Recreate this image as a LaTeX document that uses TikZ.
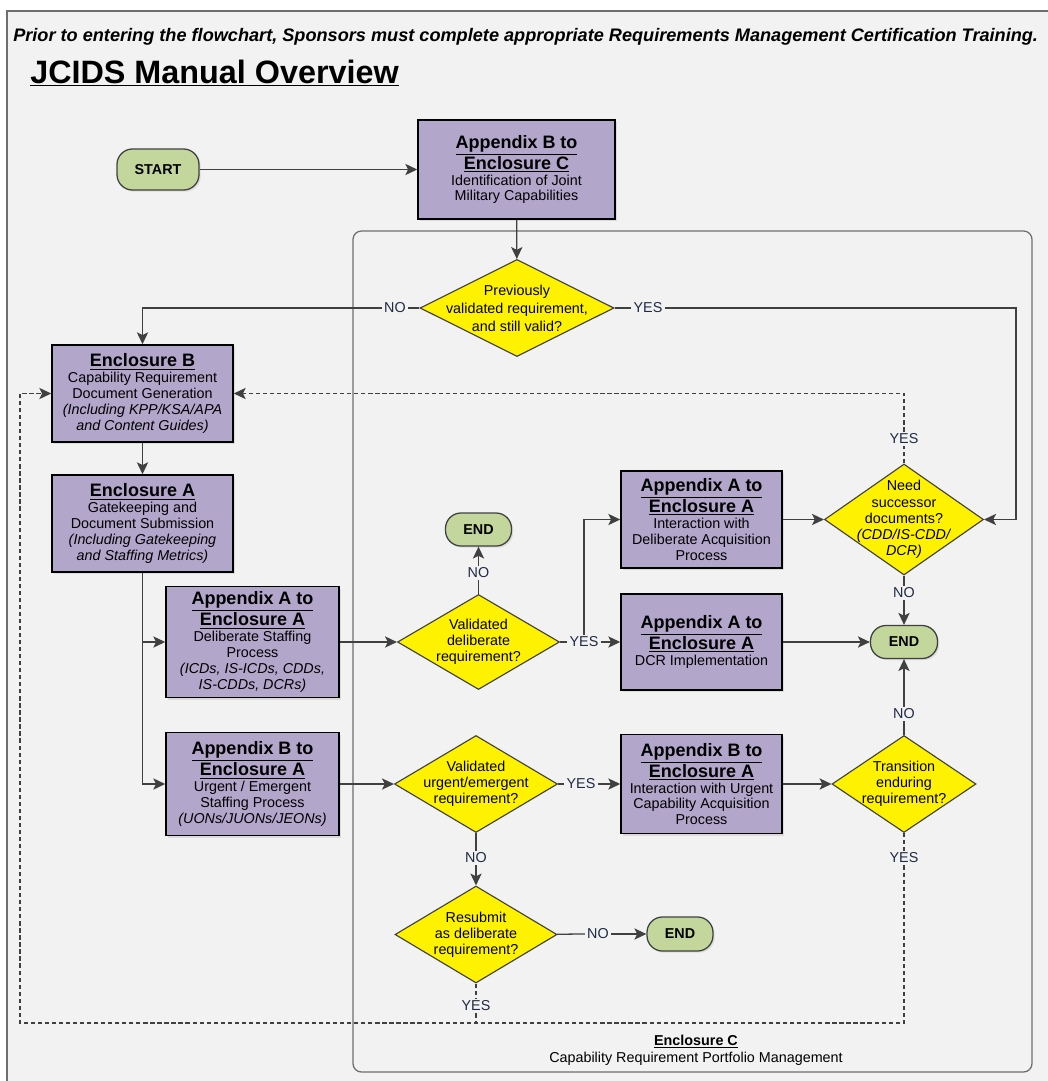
\documentclass[tikz,border=0pt]{standalone}
\usepackage{fontspec}
\setmainfont{Liberation Sans}
\usepackage{xcolor}
\definecolor{bggray}{HTML}{F2F2F2}
\definecolor{framegray}{HTML}{6E6E6E}
\definecolor{boxpurple}{HTML}{B3A6CB}
\definecolor{termgreen}{HTML}{C3D69B}
\definecolor{linegray}{HTML}{404040}
\definecolor{labelblue}{HTML}{1F2A44}
\usepackage{tikz}
\usetikzlibrary{arrows.meta, positioning, shapes.geometric, shadows}

\begin{document}
\begin{tikzpicture}[x=0.025cm, y=-0.025cm,
	conn/.style={draw=linegray, line width=0.9pt},
	arr/.style={conn, -{Stealth[length=8.5pt, width=8pt, inset=2pt]}},
	dashes/.style={dash pattern=on 3pt off 2pt},
	sz/.style 2 args={minimum width=#1*\xu, minimum height=#2*\xu},
	pbox/.style={rectangle, draw=black, line width=1.1pt, fill=boxpurple, align=center, inner sep=0pt,
		font=\fontsize{10.2}{11.3}\selectfont,
		drop shadow={shadow xshift=1.5pt, shadow yshift=-1.5pt, opacity=0.2}},
	term/.style={rectangle, rounded corners=11pt, draw=linegray, line width=0.9pt, fill=termgreen, inner sep=0pt,
		font=\fontsize{10.2}{12}\selectfont\bfseries,
		drop shadow={shadow xshift=1.2pt, shadow yshift=-1.2pt, opacity=0.2}},
	dec/.style={diamond, draw=linegray, line width=0.8pt, fill=yellow, inner sep=0pt},
	dtxt/.style={align=center, inner sep=0pt, font=\fontsize{10.2}{11.5}\selectfont},
	yn/.style={text=labelblue, inner sep=1.5pt, font=\fontsize{10.2}{12}\selectfont},
]

\def \xu{0.025cm} % one pixel of the reference

\newcommand{\hd}[1]{{\fontsize{12.8}{14}\selectfont\bfseries\underline{#1}}}

\useasboundingbox (0,0) rectangle (1048,1081);
\fill[white] (0,0) rectangle (1048,1081);
\draw[framegray, line width=1.4pt, fill=bggray] (7,11) rectangle (1080,1110); % outer frame

% Enclosure C portfolio management area
\draw[framegray, line width=0.9pt, rounded corners=6pt] (353,231) rectangle (1032,1072);
\node[align=center, inner sep=0pt, font=\fontsize{10.2}{12}\selectfont] (encclbl) at (696,1050)
	{\textbf{\underline{Enclosure C}}\\Capability Requirement Portfolio Management};

\node[anchor=base west, inner sep=0pt, font=\fontsize{12.9}{14}\selectfont\bfseries\itshape] (note) at (13,41)
	{Prior to entering the flowchart, Sponsors must complete appropriate Requirements Management Certification Training.};
\node[anchor=base west, inner sep=0pt, font=\fontsize{23}{26}\selectfont\bfseries] (title) at (30,83)
	{\underline{JCIDS Manual Overview}};

% terminals
\node[term, sz={82}{41}] (start) at (158,169.5) {START};
\node[term, sz={66}{33}] (end1) at (478.5,529.5) {END};
\node[term, sz={67}{33}] (end2) at (904,642) {END};
\node[term, sz={66}{34}] (end3) at (680,934) {END};

% process boxes
\node[pbox, sz={197}{99}] (appbc) at (516.5,169.5)
	{\hd{Appendix B to}\\\hd{Enclosure C}\\Identification of Joint\\Military Capabilities};
\node[pbox, sz={181}{97}] (encb) at (142.5,393.5)
	{\hd{Enclosure B}\\Capability Requirement\\Document Generation\\\textit{(Including KPP/KSA/APA}\\\textit{and Content Guides)}};
\node[pbox, sz={181}{97}] (enca) at (142.5,523.5)
	{\hd{Enclosure A}\\Gatekeeping and\\Document Submission\\\textit{(Including Gatekeeping}\\\textit{and Staffing Metrics)}};
\node[pbox, sz={173}{111}] (delib) at (252.5,642)
	{\hd{Appendix A to}\\\hd{Enclosure A}\\Deliberate Staffing\\Process\\\textit{(ICDs, IS-ICDs, CDDs,}\\\textit{IS-CDDs, DCRs)}};
\node[pbox, sz={173}{103}] (urgent) at (252.5,784)
	{\hd{Appendix B to}\\\hd{Enclosure A}\\Urgent / Emergent\\Staffing Process\\\textit{(UONs/JUONs/JEONs)}};
\node[pbox, sz={161}{97}] (acqdelib) at (701.5,519.5)
	{\hd{Appendix A to}\\\hd{Enclosure A}\\Interaction with\\Deliberate Acquisition\\Process};
\node[pbox, sz={161}{96}] (dcr) at (701.5,642)
	{\hd{Appendix A to}\\\hd{Enclosure A}\\DCR Implementation};
\node[pbox, sz={161}{99}] (acqurg) at (701.5,784)
	{\hd{Appendix B to}\\\hd{Enclosure A}\\Interaction with Urgent\\Capability Acquisition\\Process};

% decisions
\node[dec, sz={194}{97}, label={[dtxt, font=\fontsize{10.2}{12.8}\selectfont]center:{Previously\\validated requirement,\\and still valid?}}] (prev) at (517,308) {};
\node[dec, sz={162}{95}, label={[dtxt]center:{Validated\\deliberate\\requirement?}}] (valdelib) at (478.5,642) {};
\node[dec, sz={159}{111}, label={[dtxt]center:{Need\\successor\\documents?\\\textit{(CDD/IS-CDD/}\\\textit{DCR)}}}] (succ) at (904,519.5) {};
\node[dec, sz={163}{97}, label={[dtxt]center:{Validated\\urgent/emergent\\requirement?}}] (valurg) at (476,784) {};
\node[dec, sz={162}{97}, label={[dtxt]center:{Resubmit\\as deliberate\\requirement?}}] (resub) at (476,934.5) {};
\node[dec, sz={144}{97}, label={[dtxt]center:{Transition\\enduring\\requirement?}}] (trans) at (904,784) {};

% yes / no labels
\foreach \nm/\xp/\yp/\tx in {no1/395/308/NO, yes1/648/308/YES, no2/478.5/573/NO, yes2/584/642/YES,
	yes3/904/439/YES, no3/904/593/NO, no4/904/714/NO, yes4/581/784/YES,
	no5/476/858/NO, no6/598/934/NO, yes5/476/1006/YES, yes6/904/858/YES}
	\node[yn] (\nm) at (\xp,\yp) {\tx};

\coordinate (rt) at (1016,308); % right turn of the YES line
\coordinate (lb) at (20,1023); % bottom left corner of the resubmit loop

\draw[arr] (start) -- (appbc);
\draw[arr] (appbc) -- (prev);
\draw[conn] (prev) -- (no1);
\draw[arr] (no1) -- (no1 -| encb.north) -- (encb.north);
\draw[conn] (prev) -- (yes1);
\draw[arr] (yes1) -- (rt) -- (rt |- succ.east) -- (succ.east);
\draw[arr] (encb) -- (enca);
\draw[arr] (enca.south) |- (urgent.west);
\draw[arr] (enca.south |- delib.west) -- (delib.west);

\draw[arr] (delib) -- (valdelib);
\draw[conn] (valdelib) -- (no2);
\draw[arr] (no2) -- (end1);
\draw[conn] (valdelib) -- (yes2);
\draw[arr] (yes2) -- (dcr);
\draw[arr] (yes2.north) -- (yes2.north |- acqdelib.west) -- (acqdelib.west);
\draw[arr] (acqdelib) -- (succ);
\draw[arr] (dcr) -- (end2);
\draw[conn] (succ) -- (no3);
\draw[arr] (no3) -- (end2);
\draw[conn, dashes] (succ) -- (yes3);
\draw[arr, dashes] (yes3) -- (yes3 |- encb.east) -- (encb.east);

\draw[arr] (urgent) -- (valurg);
\draw[conn] (valurg) -- (yes4);
\draw[arr] (yes4) -- (acqurg);
\draw[arr] (acqurg) -- (trans);
\draw[conn] (trans) -- (no4);
\draw[arr] (no4) -- (end2);
\draw[conn] (valurg) -- (no5);
\draw[arr] (no5) -- (resub);
\draw[conn] (resub) -- (no6);
\draw[arr] (no6) -- (end3);

\draw[conn, dashes] (trans) -- (yes6);
\draw[arr, dashes] (yes6) -- (yes6 |- lb) -- (lb) -- (lb |- encb.west) -- (encb.west);
\draw[conn, dashes] (resub) -- (yes5);
\draw[conn, dashes] (yes5) -- (yes5 |- lb);

\end{tikzpicture}
\end{document}
